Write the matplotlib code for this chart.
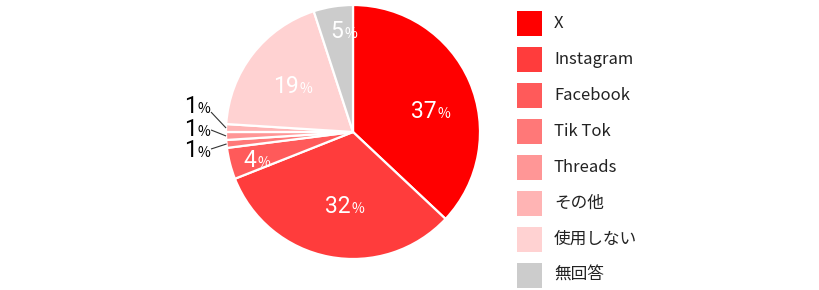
import matplotlib
matplotlib.use("Agg")
import matplotlib.pyplot as plt
import numpy as np
from matplotlib.patches import Rectangle

plt.rcParams['font.family'] = ['Noto Sans CJK JP', 'DejaVu Sans']

labels = ["X", "Instagram", "Facebook", "Tik Tok", "Threads", "その他", "使用しない", "無回答"]
values = [37, 32, 4, 1, 1, 1, 19, 5]
colors = ["#ff0000", "#ff3c3c", "#ff5a5a", "#ff7878", "#ff9696", "#ffb4b4", "#ffd2d2", "#cccccc"]

# label placement: radius (None -> outside with leader line) and angle shift in degrees
label_r = [0.63, 0.58, 0.84, None, None, None, 0.61, 0.81]
label_shift = [-7.5, 4, 0, 0, 0, 0, 0, 0]
# outside labels for the tiny slices: (leader start y, text baseline y) in data units
outside_pos = {3: (-0.134, -0.197), 4: (0.016, -0.031), 5: (0.157, 0.150)}

W, H = 820, 290
fig = plt.figure(figsize=(W / 100, H / 100), dpi=100)
R = 127
cx, cy = 353, 132
ax = fig.add_axes([(cx - R) / W, (H - cy - R) / H, 2 * R / W, 2 * R / H])

wedges, _ = ax.pie(values, colors=colors, startangle=90, counterclock=False,
                   wedgeprops=dict(edgecolor="white", linewidth=1.6))
ax.set_xlim(-1, 1)
ax.set_ylim(-1, 1)
ax.set_aspect("equal")
ax.axis("off")


def pct_label(x, y, val, color, split_dx, dy):
    # number big, % small, sharing the baseline
    ax.annotate(str(val), (x, y), xytext=(split_dx, dy), textcoords="offset points",
                ha="right", va="baseline", fontsize=16.5, color=color,
                family="Roboto", annotation_clip=False)
    ax.annotate("%", (x, y), xytext=(split_dx + 0.6, dy), textcoords="offset points",
                ha="left", va="baseline", fontsize=10, color=color,
                annotation_clip=False)


for i, (w, v) in enumerate(zip(wedges, values)):
    ang = np.deg2rad((w.theta1 + w.theta2) / 2 + label_shift[i])
    if label_r[i] is not None:
        r = label_r[i]
        pct_label(r * np.cos(ang), r * np.sin(ang), v, "white", 4.7, -5.8)
    else:
        ex, ey = np.cos(ang), np.sin(ang)
        ly, ty = outside_pos[i]
        ax.plot([ex, -1.118], [ey, ly], color="#333333", lw=0.8,
                solid_capstyle="butt", clip_on=False)
        pct_label(-1.232, ty, v, "black", 0, 0)

# legend drawn in pixel coordinates
lax = fig.add_axes([0, 0, 1, 1])
lax.set_xlim(0, W)
lax.set_ylim(H, 0)
lax.axis("off")
for i, (lab, c) in enumerate(zip(labels, colors)):
    y0 = 11 + 36 * i
    lax.add_patch(Rectangle((517, y0), 25, 25, facecolor=c, edgecolor="none"))
    lax.text(554, y0 + 12.5, lab, ha="left", va="center", fontsize=12, color="#222222")

fig.savefig("out.png", dpi=100)
